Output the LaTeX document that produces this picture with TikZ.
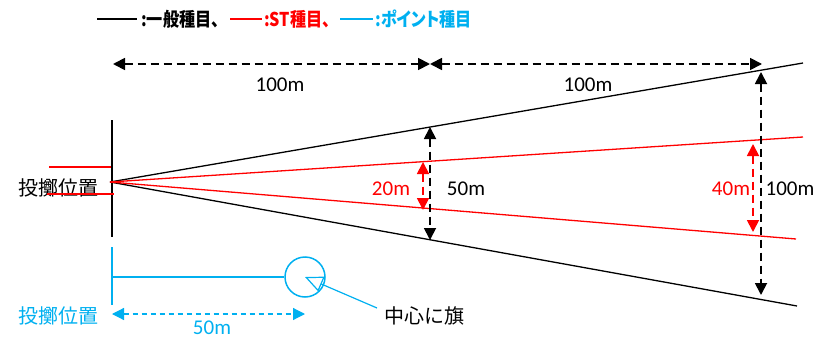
\documentclass[tikz,border=0pt]{standalone}
\usepackage{fontspec}
\setmainfont{Carlito}
\newfontfamily\jp{Noto Sans CJK JP}
\newfontfamily\jpp[RawFeature=+palt]{Noto Sans CJK JP}
\usetikzlibrary{arrows.meta}
\definecolor{pblue}{HTML}{00B0F0}
\definecolor{pred}{HTML}{FF0000}
\newcommand{\legtxt}[1]{\scalebox{0.85}[1]{#1}}
\begin{document}
\begin{tikzpicture}[x=1pt,y=-1pt,
  dimarrow/.style={dash pattern=on 8pt off 5pt, line width=1.8pt, {Triangle[length=12pt,width=12pt]}-{Triangle[length=12pt,width=12pt]}},
  bluedim/.style={pblue, dash pattern=on 5pt off 4pt, line width=1.2pt, {Triangle[length=12pt,width=12pt]}-{Triangle[length=12pt,width=12pt]}},
  fanblack/.style={black, line width=1.3pt},
  fanred/.style={pred, line width=1.3pt},
  lbl/.style={font=\fontsize{21}{21}\selectfont, inner sep=0pt},
  jplbl/.style={font=\jp\fontsize{20}{20}\selectfont, inner sep=0pt},
  legtext/.style={font=\jpp\bfseries\fontsize{19}{19}\selectfont, inner sep=0pt, anchor=west},
  legline/.style={line width=1.8pt}
]
\useasboundingbox (0,0) rectangle (816,340);

% legend
\coordinate (l1a) at (97,19); \coordinate (l1b) at (137,19);
\coordinate (l2a) at (230,19); \coordinate (l2b) at (262,19);
\coordinate (l3a) at (340,19); \coordinate (l3b) at (373,19);
\draw[legline, black] (l1a) -- (l1b);
\draw[legline, pred] (l2a) -- (l2b);
\draw[legline, pblue] (l3a) -- (l3b);
\node[legtext, text=black] (t1) at (141,19) {\legtxt{:一般種目、}};
\node[legtext, text=pred] (t2) at (264,19) {\legtxt{:ST種目、}};
\node[legtext, text=pblue] (t3) at (375,19) {\legtxt{:ポイント種目}};

% throw position
\node[jplbl] (pos) at (58,188) {投擲位置};
\coordinate (vt) at (112,120); \coordinate (vb) at (112,237);
\draw[line width=2pt] (vt) -- (vb);
\coordinate (r1a) at (49,167); \coordinate (r1b) at (111,167);
\coordinate (r2a) at (47,194); \coordinate (r2b) at (114,194);
\draw[pred, line width=2.6pt] (r1a) -- (r1b);
\draw[pred, line width=2.6pt] (r2a) -- (r2b);

% sectors
\coordinate (O) at (110,182);
\coordinate (BU) at (803,63);
\coordinate (BL) at (797,306);
\coordinate (RU) at (803,137);
\coordinate (RL) at (796,239);
\draw[fanblack] (O) -- (BU);
\draw[fanblack] (O) -- (BL);
\draw[fanred] (O) -- (RU);
\draw[fanred] (O) -- (RL);

% top dimensions
\coordinate (h1) at (113,64); \coordinate (h2) at (430,64); \coordinate (h3) at (762,64);
\draw[dimarrow] (h1) -- (h2);
\draw[dimarrow] (h2) -- (h3);
\node[lbl] (d1) at (280,85) {100m};
\node[lbl] (d2) at (588,85) {100m};

% middle dimensions
\coordinate (m1) at (430,127); \coordinate (m2) at (430,240);
\draw[dimarrow] (m1) -- (m2);
\coordinate (m3) at (423,162); \coordinate (m4) at (423,210);
\draw[dimarrow, pred] (m3) -- (m4);
\node[lbl, text=pred] (d3) at (391,189) {20m};
\node[lbl] (d4) at (466,189) {50m};

% right dimensions
\coordinate (n1) at (761,72); \coordinate (n2) at (761,295);
\draw[dimarrow] (n1) -- (n2);
\coordinate (n3) at (753,144); \coordinate (n4) at (753,232);
\draw[dimarrow, pred] (n3) -- (n4);
\node[lbl, text=pred] (d5) at (731,189) {40m};
\node[lbl] (d6) at (790,189) {100m};

% point event
\coordinate (bt) at (112,247); \coordinate (bb) at (112,305);
\draw[pblue, line width=1.5pt] (bt) -- (bb);
\node[circle, draw=pblue, line width=1.5pt, minimum size=40pt, inner sep=0pt] (C) at (305,277) {};
\coordinate (bh) at (112,277);
\draw[pblue, line width=1.5pt] (bh) -- (C.west);
\node[jplbl, text=pblue] (bpos) at (58,316) {投擲位置};
\coordinate (bd1) at (112,314); \coordinate (bd2) at (305,314);
\draw[bluedim] (bd1) -- (bd2);
\node[lbl, text=pblue] (d7) at (212,328) {50m};
\node[jplbl] (flag) at (424,316) {中心に旗};
\coordinate (fs) at (377,308);
\draw[pblue, line width=1.2pt, -{Triangle[open,length=18pt,width=16pt]}] (fs) -- (C.center);
\end{tikzpicture}
\end{document}
